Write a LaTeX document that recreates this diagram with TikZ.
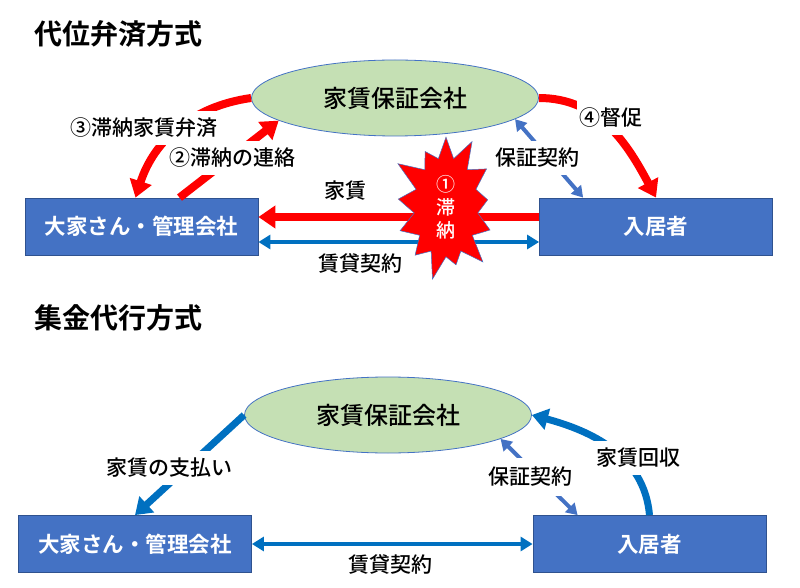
\documentclass[tikz,border=0pt]{standalone}
\usepackage{fontspec}
\setmainfont{Noto Sans CJK JP}[UprightFont={* Medium},BoldFont={* Bold}]
\usetikzlibrary{shapes.geometric,shapes.symbols,arrows.meta}

\definecolor{boxblue}{HTML}{4472C4}
\definecolor{boxline}{HTML}{2F528F}
\definecolor{ellgreen}{HTML}{C5E0B4}
\definecolor{arrblue}{HTML}{0070C0}

\tikzset{
  heading/.style={anchor=west, font=\fontsize{28}{30}\selectfont\bfseries},
  party/.style={rectangle, draw=boxline, line width=0.8pt, fill=boxblue, text=white,
    minimum width=233pt, minimum height=57pt, font=\fontsize{21.5}{24}\selectfont\bfseries},
  guarantor/.style={ellipse, draw=boxblue, line width=0.8pt, fill=ellgreen,
    minimum width=287pt, minimum height=76pt, font=\fontsize{24}{26}\selectfont},
  tag/.style={fill=white, inner xsep=3pt, inner ysep=7pt, font=\fontsize{21}{24}\selectfont},
  plain/.style={font=\fontsize{21}{24}\selectfont},
  redarrow/.style={red, line width=8pt, -{Triangle[length=17pt,width=22pt]}},
  payarrow/.style={arrblue, line width=7pt, -{Triangle[length=16pt,width=21pt]}},
  leasearrow/.style={arrblue, line width=4.5pt,
    {Triangle[length=12pt,width=14pt]}-{Triangle[length=12pt,width=14pt]}},
  contractarrow/.style={boxblue, line width=4pt,
    {Triangle[length=11pt,width=13pt]}-{Triangle[length=11pt,width=13pt]}},
}

\begin{document}
\begin{tikzpicture}[x=1pt,y=1pt]
  \useasboundingbox (0,0) rectangle (800,587);

  % ---- 代位弁済方式 ----------------------------------
  \node[heading] (title1) at (31,553) {代位弁済方式};
  \node[guarantor] (hosho1) at (395,489) {家賃保証会社};
  \node[party] (ooya1) at (141.5,360.5) {大家さん・管理会社};
  \node[party] (nyukyo1) at (656,360.5) {入居者};

  % rent and lease between tenant and owner
  \draw[redarrow] ([yshift=9.5pt]nyukyo1.west) -- ([yshift=9.5pt]ooya1.east);
  \draw[leasearrow] ([yshift=-15.5pt]ooya1.east) -- ([yshift=-15.5pt]nyukyo1.west);
  \node[plain] (yachin1) at (345,396) {家賃};
  \node[plain] (chintai1) at (360,324) {賃貸契約};

  % ---- arrears burst ----------------------------------
  \node[starburst, starburst points=13, starburst point height=28pt,
        fill=red, draw=boxblue, line width=0.5pt, text=white, align=center,
        minimum width=120pt, minimum height=110pt,
        font=\fontsize{19}{23}\selectfont] (chien) at (446,380) {①\\滞\\納};

  % ---- steps ②③④ -------------------------------------
  \draw[redarrow] (hosho1.west) to[out=188,in=72] ([xshift=-6pt]ooya1.north);
  \node[tag] (step3) at (144,459) {③滞納家賃弁済};
  \draw[redarrow] ([xshift=38pt]ooya1.north) -- (hosho1.191);
  \node[tag] (step2) at (232,429) {②滞納の連絡};
  \draw[redarrow] (hosho1.east) to[out=0,in=118] (nyukyo1.north);
  \node[tag] (step4) at (611,469) {④督促};
  \draw[contractarrow] (hosho1.350) -- ([xshift=44pt]nyukyo1.north west);
  \node[tag] (hoshokei1) at (537,429) {保証契約};

  % ---- 集金代行方式 ----------------------------------
  \node[heading] (title2) at (31,269) {集金代行方式};
  \node[guarantor] (hosho2) at (388,172) {家賃保証会社};
  \node[party] (ooya2) at (135,43) {大家さん・管理会社};
  \node[party] (nyukyo2) at (649.5,43) {入居者};

  \draw[leasearrow] (ooya2) -- (nyukyo2);
  \node[plain] (chintai2) at (390,23) {賃貸契約};

  \draw[payarrow] (hosho2.west) -- (ooya2.north);
  \node[tag] (shiharai) at (169,119) {家賃の支払い};
  \draw[payarrow] (nyukyo2.north) to[out=95,in=-15] (hosho2.east);
  \node[tag] (kaishu) at (638,129) {家賃回収};
  \draw[contractarrow] (hosho2.348) -- ([xshift=45pt]nyukyo2.north west);
  \node[tag, inner ysep=9pt] (hoshokei2) at (530,110) {保証契約};
\end{tikzpicture}
\end{document}
